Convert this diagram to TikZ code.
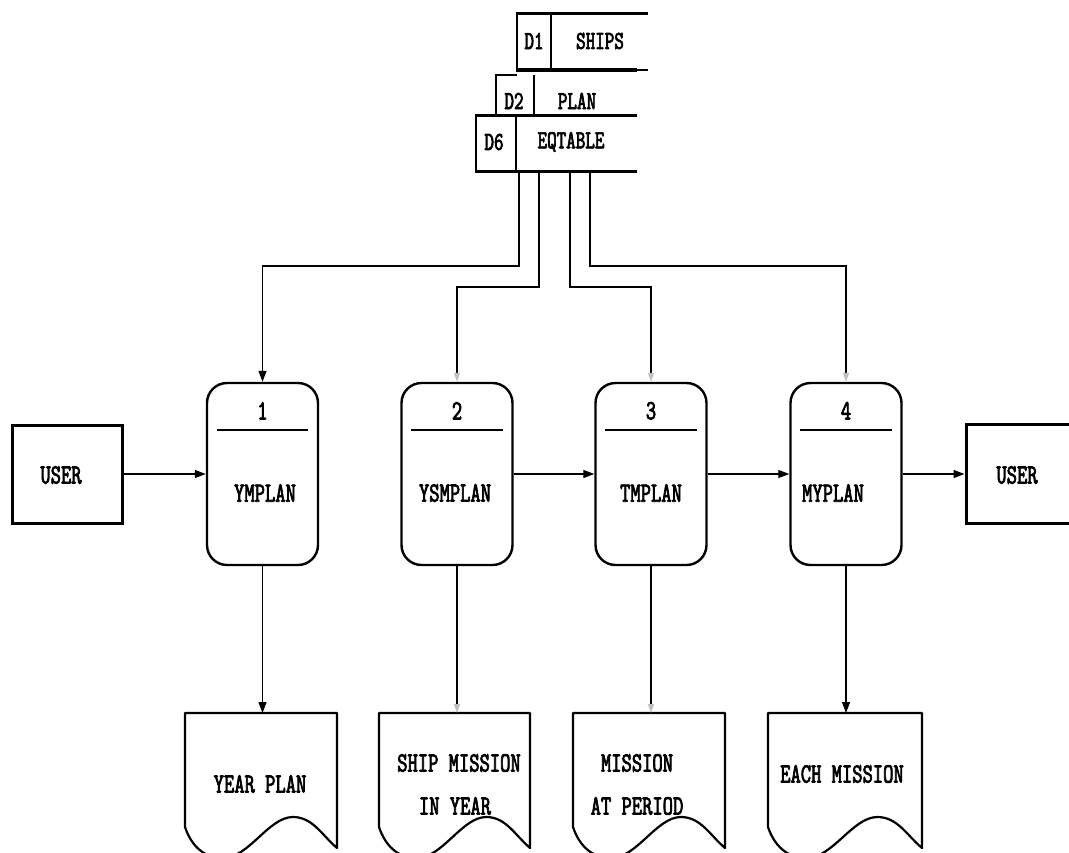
\documentclass[tikz,border=0pt]{standalone}
\usepackage{fontspec}
\newfontfamily\dfdfont{lmmono10-regular.otf}[FakeStretch=0.7,FakeBold=2.5]
\usetikzlibrary{arrows.meta,calc}

% document symbol: left edge, width, top edge
\newcommand\docshape[3]{%
  \draw[docline] (#1,#3) -- ({#1+#2},#3) -- ({#1+#2},848)
    .. controls ({#1+0.9*#2},835) and ({#1+0.84*#2},817) .. ({#1+0.71*#2},817)
    .. controls ({#1+0.55*#2},817) and ({#1+0.42*#2},858) .. ({#1+0.25*#2},858)
    .. controls ({#1+0.12*#2},858) and ({#1+0.04*#2},845) .. (#1,827) -- cycle;}

\begin{document}
\begin{tikzpicture}[x=1pt,y=-1pt,
  proc/.style={draw,rounded corners=20pt,line width=2.4pt,minimum width=111pt,minimum height=182pt,inner sep=0pt},
  ext/.style={draw,line width=3pt,inner sep=0pt},
  lbl/.style={font=\dfdfont\fontsize{28}{30}\selectfont,inner sep=0pt},
  slbl/.style={font=\dfdfont\fontsize{26}{28}\selectfont,inner sep=0pt},
  flow/.style={line width=1.2pt,-{Triangle[length=11pt,width=8pt]}},
  weak/.style={line width=1.2pt,-{Triangle[length=9pt,width=6pt,color=black!25]}},
  store/.style={line width=2pt},
  heavy/.style={line width=3pt},
  docline/.style={line width=2.2pt,line join=round}]

\useasboundingbox (0,0) rectangle (1069,852);
\fill[white] (0,0) rectangle (1069,852);
\clip (0,0) rectangle (1069,852);

% data stores
\draw[heavy] (516,13) -- (648,13);
\draw[store] (517,13) -- (517,70);
\draw[store] (551,13) -- (551,70);
\draw[line width=4pt] (516,70) -- (637,70);
\draw[line width=1.5pt] (637,70) -- (648,70);
\draw[store] (496,115) -- (496,75) -- (517,75);
\draw[store] (534,75) -- (534,115);
\draw[heavy] (475,115) -- (637,115);
\draw[store] (476,115) -- (476,171);
\draw[store] (516,115) -- (516,171);
\draw[heavy] (475,171) -- (637,171);

\node[slbl] (d1id) at (534,41) {D1};
\node[slbl] (d1n) at (600,41) {SHIPS};
\node[slbl] (d2id) at (514,101) {D2};
\node[slbl] (d2n) at (577,101) {PLAN};
\node[slbl] (d6id) at (494,142) {D6};
\node[slbl] (d6n) at (571,142) {EQTABLE};

% processes
\node[proc] (p1) at (262.5,474) {};
\node[proc] (p2) at (457,474) {};
\node[proc] (p3) at (651,474) {};
\node[proc] (p4) at (846,474) {};
\foreach \p in {p1,p2,p3,p4}
  \draw[line width=1.5pt] ($(\p.north west)+(11,48)$) -- ($(\p.north east)+(-11,48)$);

\node[lbl] (n1) at ($(p1.north)+(0,29)$) {1};
\node[lbl] (n2) at ($(p2.north)+(0,29)$) {2};
\node[lbl] (n3) at ($(p3.north)+(0,29)$) {3};
\node[lbl] (n4) at ($(p4.north)+(0,29)$) {4};
\node[lbl] (t1) at (265,493) {YMPLAN};
\node[lbl] (t2) at (455,493) {YSMPLAN};
\node[lbl] (t3) at (651,493) {TMPLAN};
\node[lbl] (t4) at (833,493) {MYPLAN};

% external entities
\node[ext,minimum width=110pt,minimum height=98pt] (u1) at (67,474) {};
\node[lbl] (u1t) at (61,475) {USER};
\node[ext,minimum width=130pt,minimum height=99pt] (u2) at (1031,474) {};
\node[lbl] (u2t) at (1017,475) {USER};

% documents
\docshape{185}{152}{713}
\docshape{379}{151}{713}
\docshape{573}{152}{713}
\docshape{768}{154}{713}
\coordinate (o1) at (262.5,713);
\coordinate (o2) at (457,713);
\coordinate (o3) at (651,713);
\coordinate (o4) at (846,713);
\node[lbl] (r1) at (260,784) {YEAR PLAN};
\node[lbl] (r2a) at (459,763) {SHIP MISSION};
\node[lbl] (r2b) at (455,806) {IN YEAR};
\node[lbl] (r3a) at (637,763) {MISSION};
\node[lbl] (r3b) at (637,806) {AT PERIOD};
\node[lbl] (r4) at (842,774) {EACH MISSION};

% flows along the main row
\draw[flow] (u1.east) -- (p1.west);
\draw[flow] (p2.east) -- (p3.west);
\draw[flow] (p3.east) -- (p4.west);
\draw[flow] (p4.east) -- (u2.west);

% flows out of the stores
\coordinate (s1) at (519,171);
\coordinate (s2) at (539,171);
\coordinate (s3) at (570,171);
\coordinate (s4) at (590,171);
\draw[flow] (s1) |- (p1.north |- 0,266) -- (p1.north);
\draw[weak] (s2) |- (p2.north |- 0,287) -- (p2.north);
\draw[weak] (s3) |- (p3.north |- 0,287) -- (p3.north);
\draw[weak] (s4) |- (p4.north |- 0,266) -- (p4.north);

% flows to the reports
\draw[flow] (p1.south) -- (o1);
\draw[weak] (p2.south) -- (o2);
\draw[weak] (p3.south) -- (o3);
\draw[flow] (p4.south) -- (o4);
\end{tikzpicture}
\end{document}
